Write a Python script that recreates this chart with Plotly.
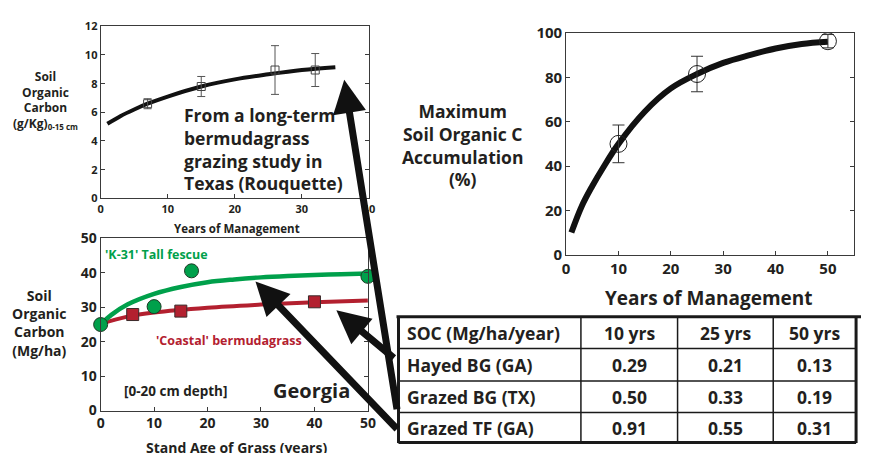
import plotly.graph_objects as go

W, H = 869, 453
FONT = "Open Sans"
TXT = "#231f20"
GREEN = "#00a04b"
RED = "#b3202f"
AX = "#3a3a3a"

# ---------------- data ----------------
# Texas (top-left)
tx_curve_x = [1, 3, 5, 7, 10, 15, 20, 25, 30, 35]
tx_curve_y = [5.2, 5.75, 6.2, 6.6, 7.1, 7.8, 8.3, 8.65, 8.95, 9.15]
tx_pts_x = [7, 15, 26, 32]
tx_pts_y = [6.6, 7.8, 8.95, 8.95]
tx_pts_err = [0.35, 0.7, 1.7, 1.15]
tx_xticks = [0, 10, 20, 30, 40]
tx_yticks = [0, 2, 4, 6, 8, 10, 12]

# Georgia (bottom-left)
fescue_curve_x = [0, 2, 5, 10, 15, 20, 25, 30, 35, 40, 45, 50]
fescue_curve_y = [25, 27.8, 30.8, 33.9, 35.9, 37.3, 38.1, 38.7, 39.1, 39.4, 39.6, 39.8]
bermuda_curve_x = [0, 5, 10, 20, 30, 40, 50]
bermuda_curve_y = [25.2, 27.3, 28.5, 29.9, 30.8, 31.5, 32.0]
fescue_pts_x = [0, 10, 17, 50]
fescue_pts_y = [25.0, 30.2, 40.6, 39.0]
bermuda_pts_x = [6, 15, 40]
bermuda_pts_y = [27.9, 28.9, 31.6]
ga_xticks = [0, 10, 20, 30, 40, 50]
ga_yticks = [0, 10, 20, 30, 40, 50]

# Maximum SOC accumulation (right)
max_curve_x = [1, 3, 5, 7, 10, 15, 20, 25, 30, 35, 40, 45, 50]
max_curve_y = [10, 22, 31, 39, 50, 64.5, 75, 81.5, 86.5, 90, 93, 95, 96]
max_pts_x = [10, 25, 50]
max_pts_y = [50, 81.5, 96.3]
max_pts_err = [8.5, 8.0, 3.0]
max_xticks = [0, 10, 20, 30, 40, 50]
max_yticks = [0, 20, 40, 60, 80, 100]

# Table
tbl_header = ["SOC (Mg/ha/year)", "10 yrs", "25 yrs", "50 yrs"]
tbl_rows = ["Hayed BG (GA)", "Grazed BG (TX)", "Grazed TF (GA)"]
tbl_10 = ["0.29", "0.50", "0.91"]
tbl_25 = ["0.21", "0.33", "0.55"]
tbl_50 = ["0.13", "0.19", "0.31"]


def px(x):
    return x / W


def py(y):
    return 1 - y / H


fig = go.Figure()

# --- top-left traces
fig.add_trace(go.Scatter(x=tx_curve_x, y=tx_curve_y, mode="lines",
                         line=dict(color="#111", width=4, shape="spline"),
                         xaxis="x", yaxis="y", hoverinfo="skip"))
fig.add_trace(go.Scatter(x=tx_pts_x, y=tx_pts_y, mode="markers",
                         marker=dict(symbol="square-open", size=8, color="#444", line=dict(width=1)),
                         error_y=dict(type="data", array=tx_pts_err, color="#555", thickness=1, width=4),
                         xaxis="x", yaxis="y"))

# --- bottom-left traces
fig.add_trace(go.Scatter(x=bermuda_curve_x, y=bermuda_curve_y, mode="lines",
                         line=dict(color=RED, width=4, shape="spline"),
                         xaxis="x2", yaxis="y2"))
fig.add_trace(go.Scatter(x=fescue_curve_x, y=fescue_curve_y, mode="lines",
                         line=dict(color=GREEN, width=4.5, shape="spline"),
                         xaxis="x2", yaxis="y2"))
fig.add_trace(go.Scatter(x=bermuda_pts_x, y=bermuda_pts_y, mode="markers", cliponaxis=False,
                         marker=dict(symbol="square", size=12, color=RED, line=dict(color="#3a2a2a", width=1)),
                         xaxis="x2", yaxis="y2"))
fig.add_trace(go.Scatter(x=fescue_pts_x, y=fescue_pts_y, mode="markers", cliponaxis=False,
                         marker=dict(symbol="circle", size=14, color=GREEN, line=dict(color="#1d3a25", width=1)),
                         xaxis="x2", yaxis="y2"))

# --- right traces
fig.add_trace(go.Scatter(x=max_curve_x, y=max_curve_y, mode="lines",
                         line=dict(color="#111", width=6, shape="spline"),
                         xaxis="x3", yaxis="y3"))
fig.add_trace(go.Scatter(x=max_pts_x, y=max_pts_y, mode="markers", cliponaxis=False,
                         marker=dict(symbol="circle-open", size=17, color="#222", line=dict(width=1)),
                         error_y=dict(type="data", array=max_pts_err, color="#333", thickness=1, width=6),
                         xaxis="x3", yaxis="y3"))


def axstyle(domain, rng, ticks, size, mirror_ticks=True):
    return dict(domain=domain, range=rng, tickmode="array", tickvals=ticks,
                ticktext=["<b>%d</b>" % t for t in ticks],
                showline=True, linecolor=AX, linewidth=1, mirror="ticks" if mirror_ticks else True,
                ticks="inside", ticklen=4, tickcolor=AX, showgrid=False, zeroline=False,
                tickfont=dict(family=FONT, size=size, color=TXT), fixedrange=True)


layout = dict(
    width=W, height=H, margin=dict(l=0, r=0, t=0, b=0),
    paper_bgcolor="white", plot_bgcolor="white", showlegend=False,
    font=dict(family=FONT, color=TXT),
    xaxis=axstyle([px(98), px(370)], [0, 40], tx_xticks, 11, False),
    yaxis=axstyle([py(196), py(16)], [0, 12], tx_yticks, 11),
    xaxis2=axstyle([px(98), px(369)], [0, 50], ga_xticks, 14, False),
    yaxis2=axstyle([py(418), py(238)], [0, 50], ga_yticks, 14),
    xaxis3=axstyle([px(570), px(862)], [0, 55], max_xticks, 15, False),
    yaxis3=axstyle([py(255), py(23)], [0, 100], max_yticks, 15),
)
layout["xaxis2"]["anchor"] = "y2"
layout["yaxis2"]["anchor"] = "x2"
layout["xaxis3"]["anchor"] = "y3"
layout["yaxis3"]["anchor"] = "x3"
fig.update_layout(**layout)

ann = []


def text(x, y, s, size, color=TXT, weight="bold", xanchor="center", yanchor="middle", align="center"):
    ann.append(dict(x=px(x), y=py(y), xref="paper", yref="paper", text=s, showarrow=False,
                    xanchor=xanchor, yanchor=yanchor, align=align,
                    font=dict(family=FONT, size=size, color=color, weight=weight)))


# titles
text(42, 93, "Soil<br>Organic<br>Carbon<br>(g/Kg)<sub><span style='font-size:8px'>0-15 cm</span></sub>", 12)
text(236, 228, "Years of Management", 11.5)
text(180, 144, "From a long-term<br>bermudagrass<br>grazing study in<br>Texas (Rouquette)", 17.5,
     xanchor="left", align="left")
text(36, 326, "Soil<br>Organic<br>Carbon<br>(Mg/ha)", 14)
text(155, 255, "'K-31' Tall fescue", 12.5, color=GREEN, xanchor="center")
text(228, 345, "'Coastal' bermudagrass", 12.5, color=RED)
text(174, 398, "[0-20 cm depth]", 13.5, weight="bold")
text(312, 397, "Georgia", 20, weight="bold")
text(236, 445, "Stand Age of Grass (years)", 14, yanchor="top")
text(465, 140, "Maximum<br>Soil Organic C<br>Accumulation<br>(%)", 17.5)
text(715, 300, "Years of Management", 19)

# table text
TS = 17.5
col_x = [407, 634, 731.5, 822]
row_y = [336.5, 370, 403.5, 436]
for j, h in enumerate(tbl_header):
    if j == 0:
        text(col_x[0], row_y[0], h, TS, xanchor="left")
    else:
        text(col_x[j], row_y[0], h, TS)
for i, r in enumerate(tbl_rows):
    text(col_x[0], row_y[i + 1], r, TS, xanchor="left")
    text(col_x[1], row_y[i + 1], tbl_10[i], TS)
    text(col_x[2], row_y[i + 1], tbl_25[i], TS)
    text(col_x[3], row_y[i + 1], tbl_50[i], TS)

# arrows (tip, tail) in pixels
arrows = [((345, 72), (398, 403)), ((337, 313), (396, 362)), ((255, 283), (398, 432))]
for (tx, ty), (sx, sy) in arrows:
    ann.append(dict(x=px(tx), y=py(ty), xref="paper", yref="paper", text="", showarrow=True,
                    ax=sx - tx, ay=sy - ty, axref="pixel", ayref="pixel",
                    arrowhead=2, arrowsize=0.95, arrowwidth=7, arrowcolor="#111", standoff=0))
fig.update_layout(annotations=ann)

# table lines
shapes = []


def line(x0, y0, x1, y1, w):
    shapes.append(dict(type="line", xref="paper", yref="paper", x0=px(x0), y0=py(y0), x1=px(x1), y1=py(y1),
                       line=dict(color="#1a1a1a", width=w)))


for yy in [353, 387, 420]:
    line(400, yy, 864, yy, 1.5)
for xx in [585, 683, 780]:
    line(xx, 320, xx, 452, 1.5)
line(398, 320, 869, 320, 3)
line(400, 320, 400, 452, 3)
line(864, 320, 864, 452, 3)
line(400, 451.5, 864, 451.5, 3)
fig.update_layout(shapes=shapes)

fig.write_html("out.html")
